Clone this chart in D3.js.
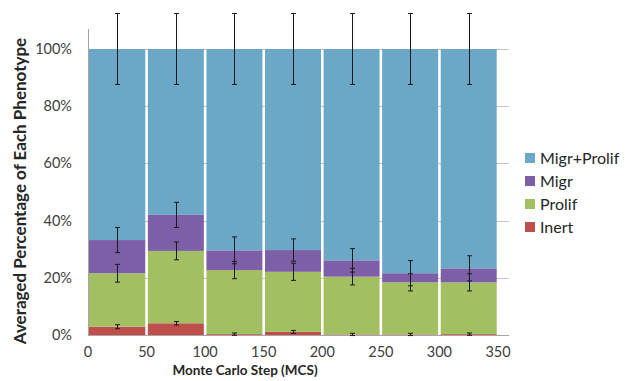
<!DOCTYPE html>
<html>
<head>
<meta charset="utf-8">
<script src="https://cdn.jsdelivr.net/npm/d3@7"></script>
<style>
  body { margin: 0; background: #fff; }
  text { font-family: Lato, "Open Sans", sans-serif; }
</style>
</head>
<body>
<svg id="chart" width="625" height="381"></svg>
<script>
// bin start (MCS), each bin is 50 steps wide
var steps = [0, 50, 100, 150, 200, 250, 300];
var binWidth = 50;

// averaged share of each phenotype (%)
var inert      = [2.9, 4.1, 0.3, 1.1, 0.2, 0.2, 0.3];
var prolif     = [18.7, 25.3, 22.4, 21.0, 20.2, 18.2, 18.1];
var migr       = [11.6, 12.6, 6.9, 7.6, 5.7, 3.2, 4.9];
var migrProlif = [66.8, 58.0, 70.4, 70.3, 73.9, 78.4, 76.7];

// error bar half lengths (%)
var inertErr      = [0.7, 0.6, 0.4, 0.5, 0.4, 0.4, 0.4];
var prolifErr     = [3.1, 3.1, 3.0, 3.0, 2.9, 3.0, 3.0];
var migrErr       = [4.4, 4.4, 4.7, 3.9, 4.1, 4.4, 4.4];
var migrProlifErr = [12.4, 12.4, 12.4, 12.4, 12.4, 12.4, 12.4];

var seriesNames = ["Inert", "Prolif", "Migr", "Migr+Prolif"];
var legendOrder = ["Migr+Prolif", "Migr", "Prolif", "Inert"];
var xTicks = [0, 50, 100, 150, 200, 250, 300, 350];
var yTicks = [0, 0.2, 0.4, 0.6, 0.8, 1.0];

var colors = {
  "Inert": "#bf4f4b",
  "Prolif": "#a2bf61",
  "Migr": "#7c5fa7",
  "Migr+Prolif": "#6ba8c5"
};

var values = { "Inert": inert, "Prolif": prolif, "Migr": migr, "Migr+Prolif": migrProlif };
var errors = { "Inert": inertErr, "Prolif": prolifErr, "Migr": migrErr, "Migr+Prolif": migrProlifErr };

var rows = steps.map(function(s, i) {
  var r = { step: s };
  seriesNames.forEach(function(k) { r[k] = values[k][i] / 100; });
  return r;
});

var svg = d3.select("#chart");
var plotLeft = 88, plotRight = 498, plotTop = 49, plotBottom = 335;
var gridRight = 509;

var x = d3.scaleLinear().domain([0, 350]).range([plotLeft, plotRight]);
var y = d3.scaleLinear().domain([0, 1]).range([plotBottom, plotTop]);

// gridlines
svg.append("g").selectAll("line")
  .data(yTicks.filter(function(t) { return t > 0; }))
  .enter().append("line")
    .attr("x1", plotLeft).attr("x2", gridRight)
    .attr("y1", function(d) { return Math.round(y(d)) + 0.5; })
    .attr("y2", function(d) { return Math.round(y(d)) + 0.5; })
    .attr("stroke", "#c4c4c4")
    .attr("stroke-width", 1);

var stacked = d3.stack().keys(seriesNames)(rows);

var layers = svg.append("g").selectAll("g")
  .data(stacked)
  .enter().append("g")
    .attr("fill", function(d) { return colors[d.key]; });

layers.selectAll("rect")
  .data(function(d) { return d; })
  .enter().append("rect")
    .attr("x", function(d) { return x(d.data.step) + (d.data.step === 0 ? 0 : 1.3); })
    .attr("width", function(d) {
      return x(d.data.step + binWidth) - x(d.data.step) - (d.data.step === 0 ? 1.3 : 2.6);
    })
    .attr("y", function(d) { return y(d[1]); })
    .attr("height", function(d) { return y(d[0]) - y(d[1]); });

// axes lines
svg.append("line")
  .attr("x1", plotLeft + 0.5).attr("x2", plotLeft + 0.5)
  .attr("y1", 29).attr("y2", plotBottom)
  .attr("stroke", "#a6a6a6");
svg.append("line")
  .attr("x1", plotLeft).attr("x2", gridRight)
  .attr("y1", plotBottom + 0.5).attr("y2", plotBottom + 0.5)
  .attr("stroke", "#a6a6a6");

// error bars at the top of each stacked segment
var errG = svg.append("g").attr("stroke", "#1a1a1a").attr("stroke-width", 1);
stacked.forEach(function(layer) {
  layer.forEach(function(d, i) {
    var e = errors[layer.key][i] / 100;
    var cx = Math.round(x(d.data.step + binWidth / 2)) + 0.5;
    var y0 = y(d[1] - e), y1 = y(d[1] + e);
    errG.append("line").attr("x1", cx).attr("x2", cx).attr("y1", y0).attr("y2", y1);
    errG.append("line").attr("x1", cx - 2.5).attr("x2", cx + 2.5).attr("y1", y0).attr("y2", y0);
    errG.append("line").attr("x1", cx - 2.5).attr("x2", cx + 2.5).attr("y1", y1).attr("y2", y1);
  });
});

// y tick labels
svg.append("g").selectAll("text")
  .data(yTicks)
  .enter().append("text")
    .attr("x", 72)
    .attr("y", function(d) { return y(d) + 5; })
    .attr("text-anchor", "end")
    .attr("font-size", 14.5)
    .attr("fill", "#404040")
    .text(d3.format(".0%"));

// x tick labels
svg.append("g").selectAll("text")
  .data(xTicks)
  .enter().append("text")
    .attr("x", function(d) { return x(d); })
    .attr("y", 357)
    .attr("text-anchor", "middle")
    .attr("font-size", 14.5)
    .attr("fill", "#404040")
    .text(function(d) { return d; });

// axis titles
svg.append("text")
  .attr("x", 245).attr("y", 375)
  .attr("text-anchor", "middle")
  .attr("font-size", 13.5)
  .attr("font-weight", "bold")
  .attr("fill", "#262626")
  .text("Monte Carlo Step (MCS)");

svg.append("text")
  .attr("transform", "translate(26,191) rotate(-90)")
  .attr("text-anchor", "middle")
  .attr("font-size", 17)
  .attr("font-weight", "bold")
  .attr("fill", "#262626")
  .text("Averaged Percentage of Each Phenotype");

// legend
var legend = svg.append("g").selectAll("g")
  .data(legendOrder)
  .enter().append("g")
    .attr("transform", function(d, i) { return "translate(525," + (158 + i * 23) + ")"; });
legend.append("rect")
  .attr("x", 0).attr("y", -5)
  .attr("width", 10).attr("height", 10)
  .attr("fill", function(d) { return colors[d]; });
legend.append("text")
  .attr("x", 15).attr("y", 6)
  .attr("font-size", 16)
  .attr("fill", "#262626")
  .text(function(d) { return d; });
</script>
</body>
</html>
